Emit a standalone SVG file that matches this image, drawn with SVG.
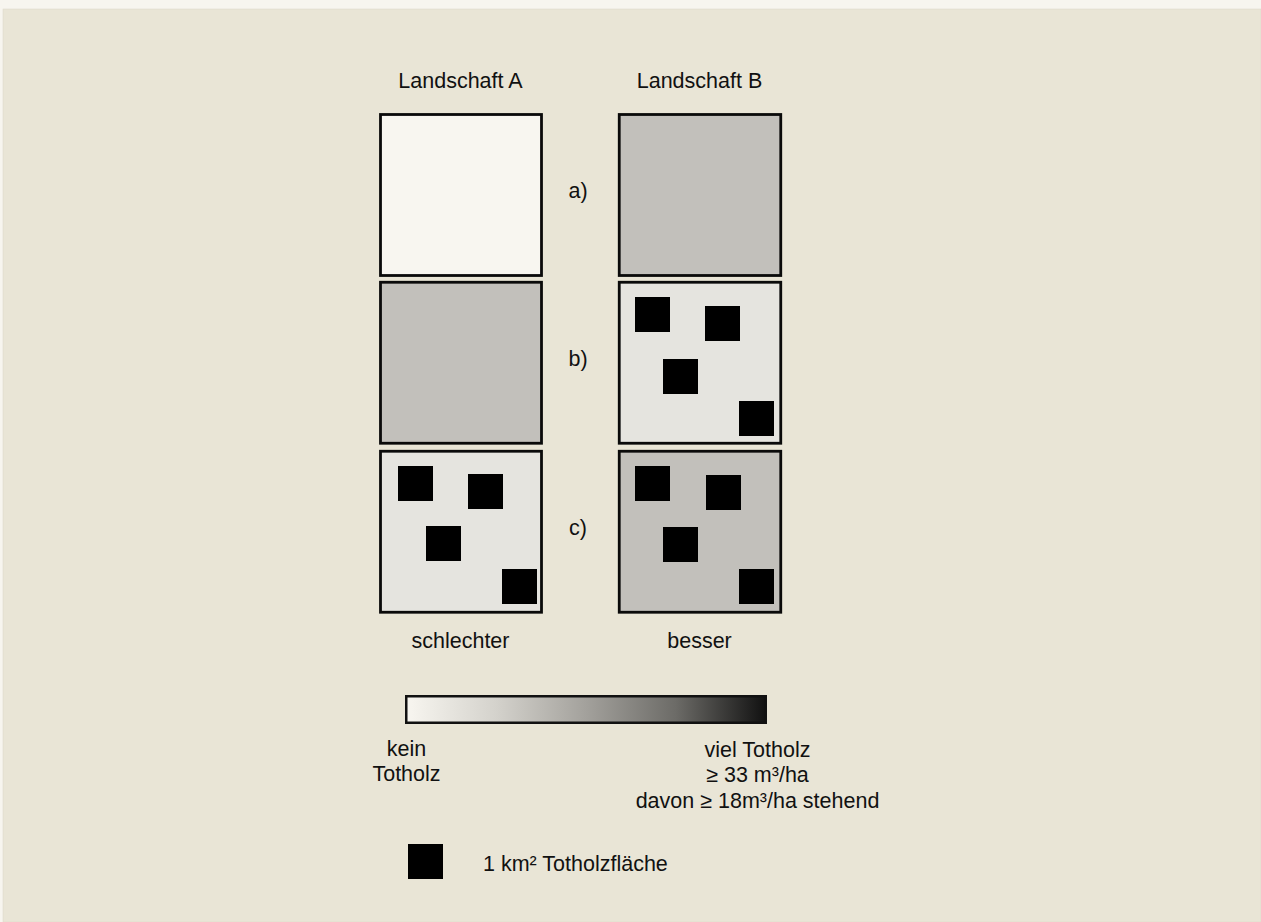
<svg xmlns="http://www.w3.org/2000/svg" width="1261" height="922" viewBox="0 0 1261 922">
<defs>
<linearGradient id="grad" x1="0" y1="0" x2="1" y2="0">
<stop offset="0" stop-color="#f8f6f0"/>
<stop offset="0.25" stop-color="#d4d2cc"/>
<stop offset="0.5" stop-color="#a3a19c"/>
<stop offset="0.75" stop-color="#6c6b67"/>
<stop offset="1" stop-color="#111111"/>
</linearGradient>
<style>
text{font-family:"Liberation Sans",Arial,sans-serif;font-size:21.5px;fill:#111;text-anchor:middle}
.box{stroke:#0a0a0a;stroke-width:2.8}
.white{fill:#f8f6f0}
.gray{fill:#c2c0bb}
.light{fill:#e5e4df}
.sq{fill:#000}
</style>
</defs>
<rect x="0" y="0" width="1261" height="922" fill="#f7f5ef"/>
<rect x="3" y="9" width="1258" height="913" fill="#e9e5d6" stroke="#dcd8c6" stroke-width="0.5"/>
<g id="header">
<text x="460.5" y="87.5">Landschaft A</text>
<text x="699.5" y="87.5">Landschaft B</text>
</g>
<g id="A-a"><rect class="box white" x="380.5" y="114.5" width="161" height="161"/></g>
<g id="B-a"><rect class="box gray" x="619.25" y="114.5" width="161.5" height="161"/></g>
<g id="A-b"><rect class="box gray" x="380.5" y="282.25" width="161" height="161"/></g>
<g id="B-b"><rect class="box light" x="619.25" y="282.25" width="161.5" height="161"/>
<rect class="sq" x="635" y="297" width="35" height="35"/>
<rect class="sq" x="705" y="306" width="35" height="35"/>
<rect class="sq" x="663" y="359" width="35" height="35"/>
<rect class="sq" x="739" y="401" width="35" height="35"/>
</g>
<g id="A-c"><rect class="box light" x="380.5" y="451.25" width="161" height="161"/>
<rect class="sq" x="398" y="466" width="35" height="35"/>
<rect class="sq" x="468" y="474" width="35" height="35"/>
<rect class="sq" x="426" y="526" width="35" height="35"/>
<rect class="sq" x="502" y="569" width="35" height="35"/>
</g>
<g id="B-c"><rect class="box gray" x="619.25" y="451.25" width="161.5" height="161"/>
<rect class="sq" x="635" y="466" width="35" height="35"/>
<rect class="sq" x="706" y="475" width="35" height="35"/>
<rect class="sq" x="663" y="527" width="35" height="35"/>
<rect class="sq" x="739" y="569" width="35" height="35"/>
</g>
<g id="row-labels">
<text x="578" y="198">a)</text>
<text x="578" y="366">b)</text>
<text x="578" y="535">c)</text>
</g>
<g id="footer">
<text x="460.5" y="648">schlechter</text>
<text x="699.5" y="648">besser</text>
</g>
<g id="scale">
<rect x="406.25" y="696.25" width="359.5" height="26.5" fill="url(#grad)" stroke="#111" stroke-width="2.5"/>
<text x="406.5" y="755.5">kein</text>
<text x="406.5" y="781">Totholz</text>
<text x="757.5" y="756.5">viel Totholz</text>
<text x="757.5" y="782">≥ 33 m³/ha</text>
<text x="757.5" y="807.5">davon ≥ 18m³/ha stehend</text>
</g>
<g id="legend">
<rect class="sq" x="408" y="844" width="35" height="35"/>
<text x="483" y="870.5" style="text-anchor:start">1 km² Totholzfläche</text>
</g>
</svg>
